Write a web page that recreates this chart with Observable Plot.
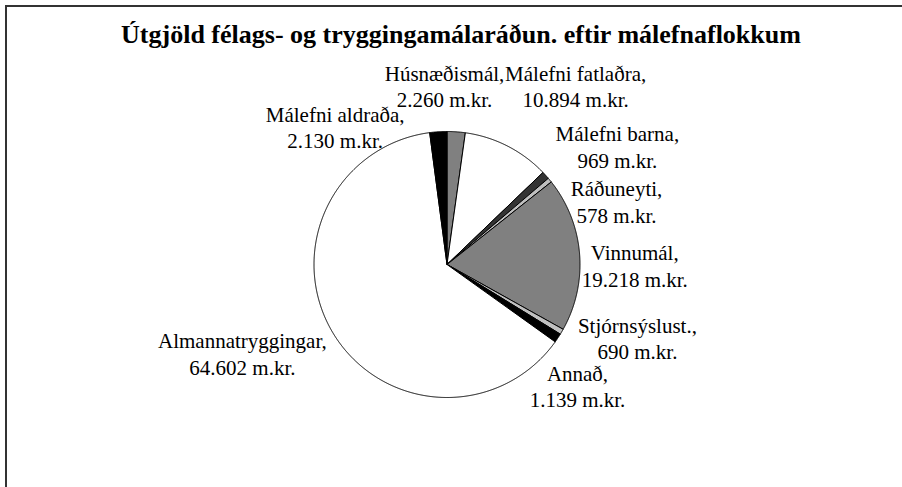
<!DOCTYPE html>
<html>
<head>
<meta charset="utf-8">
<script src="https://cdn.jsdelivr.net/npm/d3@7"></script>
<script src="https://cdn.jsdelivr.net/npm/@observablehq/plot@0.6"></script>
<style>
  html, body { margin: 0; padding: 0; background: #fff; }
  #frame {
    position: absolute; left: 5px; top: 5px; width: 897px; height: 482px;
    border-top: 2px solid #333; border-left: 2px solid #333; box-sizing: border-box;
    overflow: hidden;
  }
  #title {
    padding-top: 13px; padding-left: 13px; height: 30px; line-height: 30px;
    font: bold 26px "Liberation Serif", "Times New Roman", serif; text-align: center; color: #000;
    white-space: nowrap;
  }
  #chart svg { display: block; }
</style>
</head>
<body>
<div id="frame">
  <div id="title">Útgjöld félags- og tryggingamálaráðun. eftir málefnaflokkum</div>
  <div id="chart"></div>
</div>
<script>
// Data (clockwise from 12 o'clock)
const categories = ["Húsnæðismál", "Málefni fatlaðra", "Málefni barna", "Ráðuneyti", "Vinnumál", "Stjórnsýslust.", "Annað", "Almannatryggingar", "Málefni aldraða"];
const values = [2260, 10894, 969, 578, 19218, 690, 1139, 64602, 2130];
const unit = "m.kr.";

// Styles / layout (kept separate from the data)
const sliceColors = ["#808080", "#ffffff", "#333333", "#c0c0c0", "#808080", "#c0c0c0", "#000000", "#ffffff", "#000000"];
const labelNudges = [[-14, -13], [53, -31], [47, -7], [41, 42], [22, 14], [47, -11], [-8, 29], [-62, 3], [-101, 28]];

const fmt = d3.formatLocale({decimal: ",", thousands: ".", grouping: [3], currency: ["", ""]}).format(",d");

const total = d3.sum(values);
let acc = 0;
const slices = values.map((v, i) => {
  const a0 = acc / total * 2 * Math.PI;
  acc += v;
  const a1 = acc / total * 2 * Math.PI;
  return {name: categories[i], value: v, color: sliceColors[i], a0, a1, mid: (a0 + a1) / 2, i};
});

// polygon vertices of each slice in unit-circle data space (angle clockwise from top)
const step = Math.PI / 720;
const verts = [];
for (const s of slices) {
  verts.push({name: s.name, color: s.color, x: 0, y: 0});
  const n = Math.max(2, Math.ceil((s.a1 - s.a0) / step));
  for (let k = 0; k <= n; ++k) {
    const a = s.a0 + (s.a1 - s.a0) * k / n;
    verts.push({name: s.name, color: s.color, x: Math.sin(a), y: Math.cos(a)});
  }
  verts.push({name: s.name, color: s.color, x: 0, y: 0});
}

const W = 895, H = 437, cx = 439.5, cy = 214, r = 133, labelR = 1.25;

const labelMarks = slices.map((s, i) => Plot.text([s], {
  x: d => labelR * Math.sin(d.mid),
  y: d => labelR * Math.cos(d.mid),
  text: d => `${d.name},\n${fmt(d.value)} ${unit}`,
  dx: labelNudges[i][0],
  dy: labelNudges[i][1],
  textAnchor: "middle",
  lineAnchor: "middle",
  lineHeight: 1.26,
  fontSize: 21,
  fontFamily: "Liberation Serif, Times New Roman, serif",
  fill: "#000"
}));

const chart = Plot.plot({
  width: W,
  height: H,
  margin: 0,
  style: {background: "transparent", overflow: "visible"},
  x: {domain: [-1, 1], range: [cx - r, cx + r], axis: null},
  y: {domain: [-1, 1], range: [cy + r, cy - r], axis: null},
  marks: [
    Plot.line(verts, {x: "x", y: "y", z: "name", fill: "color", stroke: "#000", strokeWidth: 1, curve: "linear"}),
    ...labelMarks
  ]
});
document.getElementById("chart").appendChild(chart);
</script>
</body>
</html>
